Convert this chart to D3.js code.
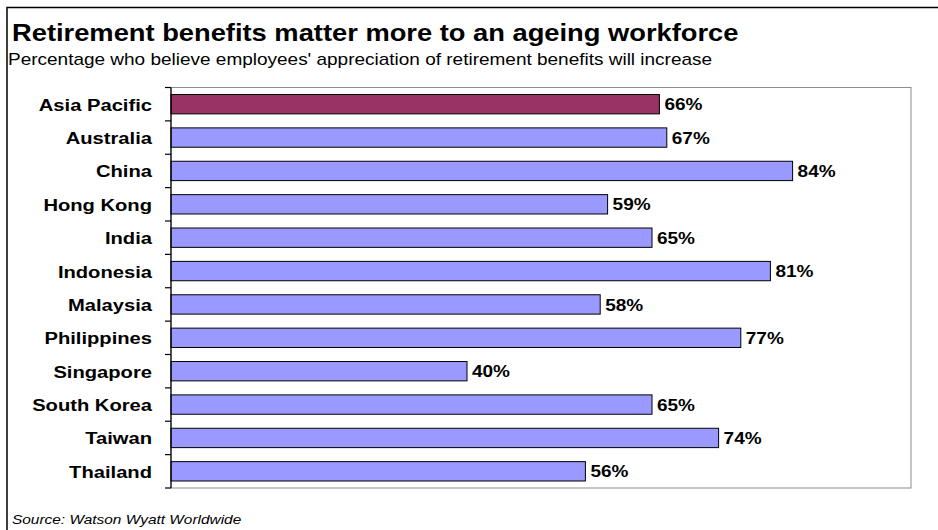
<!DOCTYPE html>
<html>
<head>
<meta charset="utf-8">
<script src="https://cdn.jsdelivr.net/npm/d3@7"></script>
<style>
  html, body { margin: 0; padding: 0; background: #fff; }
  svg { display: block; font-family: "Liberation Sans", Arial, sans-serif; }
</style>
</head>
<body>
<svg id="chart" width="938" height="530"></svg>
<script>
// Survey results by market
const categories = ["Asia Pacific", "Australia", "China", "Hong Kong", "India", "Indonesia",
  "Malaysia", "Philippines", "Singapore", "South Korea", "Taiwan", "Thailand"];
const values = [66, 67, 84, 59, 65, 81, 58, 77, 40, 65, 74, 56];
const highlight = ["Asia Pacific"];

const titleText = "Retirement benefits matter more to an ageing workforce";
const subtitleText = "Percentage who believe employees' appreciation of retirement benefits will increase";
const sourceText = "Source: Watson Wyatt Worldwide";

// Text is drawn horizontally widened
const SX = 1.187;

const svg = d3.select("#chart");

// Outer frame running off the right and bottom edges
svg.append("rect")
  .attr("x", 7).attr("y", 7.5)
  .attr("width", 1000).attr("height", 1000)
  .attr("fill", "none").attr("stroke", "#000").attr("stroke-width", 1.5);

function stretchedText(x, y, txt, opts) {
  const g = svg.append("g").attr("transform", `translate(${x},${y}) scale(${SX},1)`);
  const t = g.append("text").text(txt)
    .attr("font-size", opts.size)
    .attr("font-weight", opts.weight || "normal")
    .attr("font-style", opts.style || "normal")
    .attr("text-anchor", opts.anchor || "start")
    .attr("fill", "#000");
  if (opts.dy) t.attr("dy", opts.dy);
  return t;
}

stretchedText(12, 41, titleText, { size: 23, weight: "bold" });
stretchedText(8, 64.5, subtitleText, { size: 16 });
stretchedText(12, 524, sourceText, { size: 13, style: "italic" });

// Plot area
const plot = { left: 171, right: 911, top: 87.5, bottom: 488 };

const x = d3.scaleLinear().domain([0, 100]).range([plot.left, plot.right]);
const y = d3.scaleBand().domain(categories)
  .range([plot.top, plot.bottom])
  .paddingInner(0.42).paddingOuter(0.21);

svg.append("rect")
  .attr("x", plot.left).attr("y", plot.top)
  .attr("width", plot.right - plot.left).attr("height", plot.bottom - plot.top)
  .attr("fill", "#fff").attr("stroke", "#8c8c8c").attr("stroke-width", 1);

// Bars
svg.append("g").selectAll("rect")
  .data(categories.map((c, i) => ({ c, v: values[i] })))
  .join("rect")
  .attr("x", x(0))
  .attr("y", d => y(d.c))
  .attr("width", d => x(d.v) - x(0))
  .attr("height", y.bandwidth())
  .attr("fill", d => highlight.includes(d.c) ? "#993366" : "#9999FF")
  .attr("stroke", "#000").attr("stroke-width", 1);

// Category axis with ticks between bands
const step = y.step();
const axis = svg.append("g");
axis.append("line")
  .attr("x1", plot.left).attr("x2", plot.left)
  .attr("y1", plot.top).attr("y2", plot.bottom)
  .attr("stroke", "#000").attr("stroke-width", 1.2);
axis.selectAll("line.tick")
  .data(d3.range(categories.length + 1))
  .join("line").attr("class", "tick")
  .attr("x1", plot.left - 6).attr("x2", plot.left)
  .attr("y1", i => plot.top + i * step).attr("y2", i => plot.top + i * step)
  .attr("stroke", "#000").attr("stroke-width", 1.2);

categories.forEach(c => {
  stretchedText(152, y(c) + y.bandwidth() / 2, c,
    { size: 17, weight: "bold", anchor: "end", dy: "0.38em" });
});

// Value labels
categories.forEach((c, i) => {
  stretchedText(x(values[i]) + 5, y(c) + y.bandwidth() / 2, values[i] + "%",
    { size: 16, weight: "bold", dy: "0.38em" });
});
</script>
</body>
</html>
